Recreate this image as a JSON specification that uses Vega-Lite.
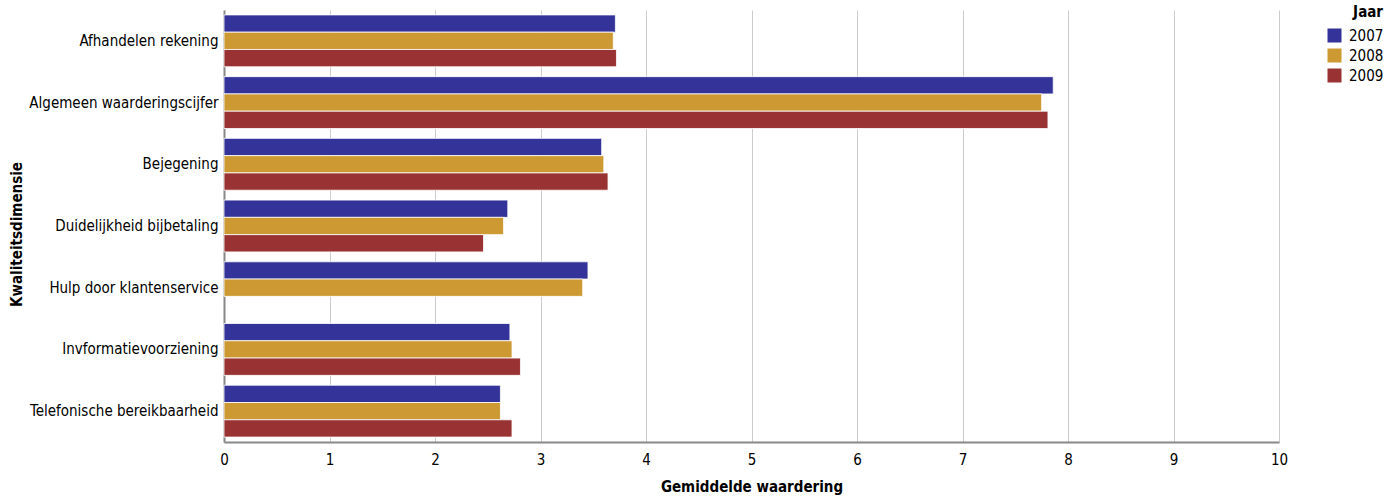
{
  "$schema": "https://vega.github.io/schema/vega-lite/v6.json",
  "autosize": "none",
  "width": 1055,
  "height": 432,
  "padding": {"left": 224, "top": 10, "right": 121, "bottom": 54},
  "background": "white",
  "data": {"values": [
    {"dim": "Afhandelen rekening", "jaar": "2007", "w": 3.71},
    {"dim": "Afhandelen rekening", "jaar": "2008", "w": 3.69},
    {"dim": "Afhandelen rekening", "jaar": "2009", "w": 3.72},
    {"dim": "Algemeen waarderingscijfer", "jaar": "2007", "w": 7.86},
    {"dim": "Algemeen waarderingscijfer", "jaar": "2008", "w": 7.75},
    {"dim": "Algemeen waarderingscijfer", "jaar": "2009", "w": 7.81},
    {"dim": "Bejegening", "jaar": "2007", "w": 3.58},
    {"dim": "Bejegening", "jaar": "2008", "w": 3.60},
    {"dim": "Bejegening", "jaar": "2009", "w": 3.64},
    {"dim": "Duidelijkheid bijbetaling", "jaar": "2007", "w": 2.69},
    {"dim": "Duidelijkheid bijbetaling", "jaar": "2008", "w": 2.65},
    {"dim": "Duidelijkheid bijbetaling", "jaar": "2009", "w": 2.46},
    {"dim": "Hulp door klantenservice", "jaar": "2007", "w": 3.45},
    {"dim": "Hulp door klantenservice", "jaar": "2008", "w": 3.40},
    {"dim": "Invformatievoorziening", "jaar": "2007", "w": 2.71},
    {"dim": "Invformatievoorziening", "jaar": "2008", "w": 2.73},
    {"dim": "Invformatievoorziening", "jaar": "2009", "w": 2.81},
    {"dim": "Telefonische bereikbaarheid", "jaar": "2007", "w": 2.62},
    {"dim": "Telefonische bereikbaarheid", "jaar": "2008", "w": 2.62},
    {"dim": "Telefonische bereikbaarheid", "jaar": "2009", "w": 2.73}
  ]},
  "mark": {"type": "bar", "stroke": "white", "strokeWidth": 0.8},
  "encoding": {
    "y": {
      "field": "dim", "type": "nominal", "sort": null,
      "scale": {"paddingInner": 0.16, "paddingOuter": 0.08},
      "axis": {
        "title": "Kwaliteitsdimensie", "ticks": false, "labelPadding": 6, "labelLimit": 0,
        "domainColor": "#888888", "domainWidth": 2,
        "titlePadding": 4, "titleY": 224
      }
    },
    "yOffset": {"field": "jaar", "type": "nominal", "scale": {"domain": ["2007", "2008", "2009"], "paddingInner": 0, "paddingOuter": 0}},
    "x": {
      "field": "w", "type": "quantitative",
      "scale": {"domain": [0, 10], "nice": false},
      "axis": {
        "title": "Gemiddelde waardering", "tickCount": 10, "ticks": false, "labelFlush": false,
        "labelPadding": 10, "grid": true, "gridColor": "#cccccc",
        "domainColor": "#888888", "domainWidth": 2, "titlePadding": 12
      }
    },
    "color": {
      "field": "jaar", "type": "nominal",
      "scale": {"domain": ["2007", "2008", "2009"], "range": ["#333399", "#CC9933", "#993333"]},
      "legend": {
        "title": "Jaar", "orient": "none", "legendX": 1103, "legendY": -5,
        "titleAnchor": "end", "titlePadding": 8, "symbolType": "square", "symbolSize": 196,
        "symbolStrokeWidth": 0, "rowPadding": 4, "labelOffset": 7
      }
    }
  },
  "config": {
    "font": "DejaVu Sans Condensed",
    "view": {"stroke": null},
    "axis": {
      "labelFont": "DejaVu Sans Condensed", "labelFontSize": 15, "labelColor": "#000000",
      "titleFont": "DejaVu Sans Condensed", "titleFontSize": 15, "titleFontWeight": "bold", "titleColor": "#000000"
    },
    "legend": {
      "labelFont": "DejaVu Sans Condensed", "labelFontSize": 15, "labelColor": "#000000",
      "titleFont": "DejaVu Sans Condensed", "titleFontSize": 15, "titleFontWeight": "bold", "titleColor": "#000000"
    }
  }
}
